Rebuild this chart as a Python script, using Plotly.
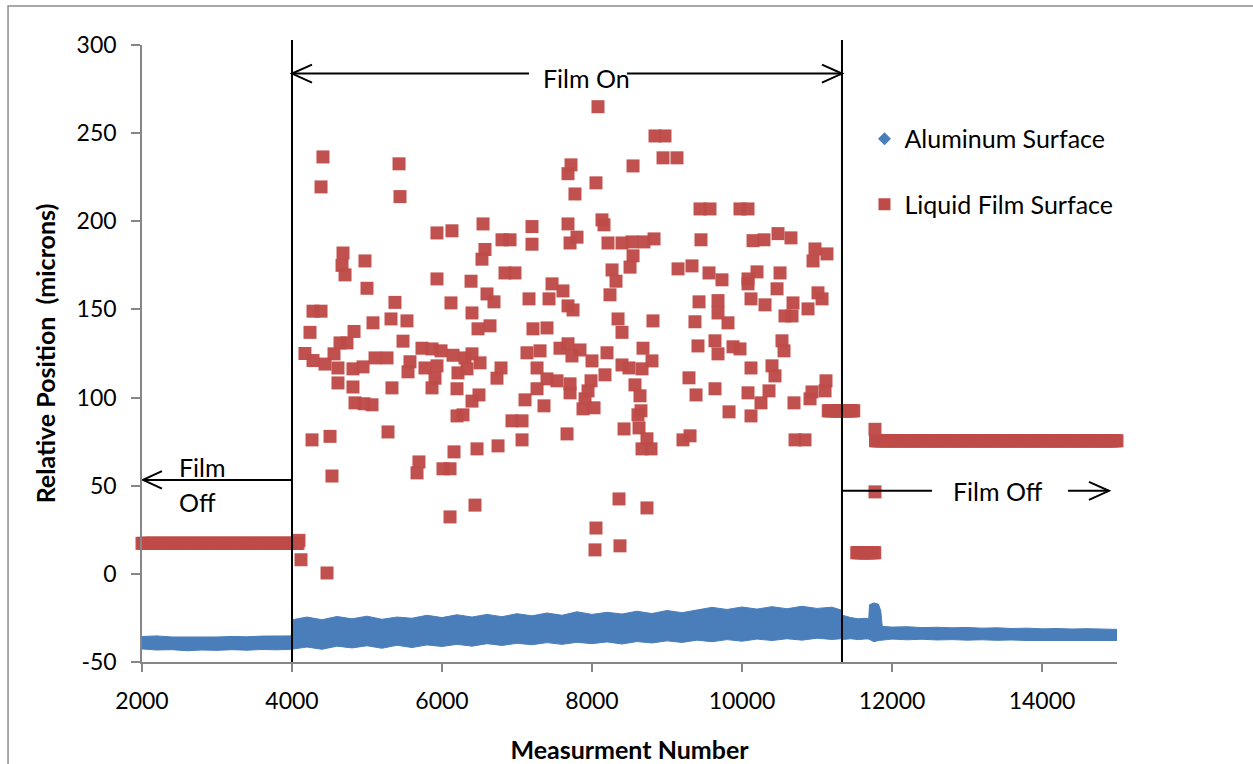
import numpy as np
import plotly.graph_objects as go

# ---------------- data ----------------
# Aluminum Surface: dense band, given as upper / lower edge of the band
al_x = [2000, 2200, 2400, 2600, 2800, 3000, 3200, 3400, 3600, 3800, 3990,
        4010, 4200, 4400, 4600, 4800, 5000, 5200, 5400, 5600, 5800, 6000,
        6200, 6400, 6600, 6800, 7000, 7200, 7400, 7600, 7800, 8000, 8200,
        8400, 8600, 8800, 9000, 9200, 9400, 9600, 9800, 10000, 10200, 10400,
        10600, 10800, 11000, 11200, 11320,
        11340, 11450, 11550, 11650, 11690,
        11700, 11760, 11820, 11850,
        11870, 12000, 12200, 12400, 12600, 12800, 13000, 13200, 13400, 13600,
        13800, 14000, 14200, 14400, 14600, 14800, 15000]
al_upper = [-35.5, -35.2, -35.8, -35.9, -35.6, -35.8, -35.5, -35.7, -35.3, -35.4, -35.2,
            -26.0, -24.5, -26.0, -24.2, -25.5, -24.0, -25.8, -24.5, -25.2, -23.5, -24.8,
            -23.2, -24.5, -23.0, -24.3, -22.6, -23.8, -22.2, -23.5, -21.5, -23.0, -21.8,
            -22.8, -21.2, -22.5, -20.8, -22.0, -20.5, -19.0, -20.2, -18.8, -20.0, -18.6,
            -19.8, -18.4, -19.6, -18.9, -20.5,
            -23.5, -24.8, -25.5, -25.2, -25.5,
            -17.5, -16.5, -17.2, -21.0,
            -29.8, -30.2, -30.0, -30.5, -30.3, -30.6, -30.4, -30.8, -30.6, -31.0,
            -30.8, -31.2, -31.0, -31.3, -31.1, -31.4, -31.5]
al_lower = [-42.6, -43.2, -43.0, -43.6, -43.2, -43.4, -43.0, -43.3, -42.9, -43.1, -42.8,
            -42.5, -41.5, -42.8, -41.0, -42.0, -40.8, -42.2, -40.5, -41.8, -40.3, -41.2,
            -40.0, -41.0, -39.6, -40.6, -39.4, -40.2, -39.0, -40.0, -38.8, -39.6, -38.6,
            -39.8, -38.4, -39.2, -38.0, -38.9, -37.6, -38.5, -37.3, -38.2, -37.0, -37.8,
            -36.8, -37.6, -36.5, -37.2, -36.8,
            -37.2, -36.8, -37.3, -36.9, -37.0,
            -37.5, -38.5, -37.8, -37.5,
            -37.3, -37.0, -37.4, -37.1, -37.5, -37.3, -37.6, -37.4, -37.7, -37.5,
            -37.8, -37.6, -37.9, -37.7, -38.0, -37.8, -37.8]

# Liquid Film Surface: flat runs of repeated readings (start, end, value)
lf_run_start = [2000, 11150, 11530, 11780]
lf_run_end = [4090, 11500, 11770, 15000]
lf_run_value = [17.3, 92.5, 12.0, 75.5]

# Liquid Film Surface: scattered readings while the film is on
lf_x = [4120, 4467, 4267, 4507, 4533, 4093, 4173, 4280, 4240, 4280, 4387, 4413, 4387,
        5427, 5440, 5933, 6133, 6547, 6800, 6907, 7200, 7200, 7720, 7680,
        4680, 4667, 4707, 4973, 5000, 5933, 6387, 6573, 6533, 6840, 6973, 7467, 7613,
        6600, 6693, 6120, 6400, 7160, 7427, 5373, 5320, 5533, 5080, 4827, 6480, 6640,
        7213, 7400, 7680,
        4640, 4733, 5480, 4560, 4440, 4613, 4813, 4947, 5107, 5267, 5733, 5867, 5987,
        6147, 6307, 6400, 6507, 5573, 5547, 5773, 5933, 5907, 5867, 6213, 6333, 6200,
        6400, 6493, 4613, 4813, 4840, 5067, 4960, 5333, 6200, 6280, 6787, 6733, 7133,
        7307, 7267, 7400, 7533, 7267, 7107, 7360, 7573, 6933, 7067, 5280, 7067, 6160,
        6467, 6747, 5693, 5667, 6013, 6107, 6440, 6107, 7667,
        8080, 8840, 8973, 8947, 9133, 8547, 8053, 7773, 9440, 9573, 9973, 10080, 8133,
        8160, 7680, 7800, 7707, 8213, 8400, 8533, 8693, 8827, 9453, 10147, 10293, 10480,
        10653, 8547, 8507, 8267, 8320, 9147, 9333, 9560, 9733, 10200, 10080, 10080,
        10507, 10467, 10973, 11133, 10947, 8240, 9427, 9680, 9680, 10120, 10307, 10680,
        11013, 11067, 10880, 10573, 10667, 7747, 8347, 8813, 9373, 9813,
        8400, 7680, 7840, 7733, 8000, 8200, 8680, 8800, 8400, 8493, 8667, 8173, 7707,
        7707, 7987, 7947, 7907, 7880, 8027, 8573, 8640, 8653, 8613, 8427, 8627, 8733,
        8787, 8667, 9413, 9640, 9680, 9880, 9973, 9293, 9387, 9640, 9827, 10120, 10080,
        10120, 10400, 10440, 10360, 10253, 10533, 10560, 10693, 10907, 10933, 11107,
        11120, 9213, 9307, 10707, 10840, 8360, 8733, 8053, 8040, 8373,
        11773, 11773]
lf_y = [8, 0.5, 76, 78, 55.5, 19, 125, 121, 137, 149, 149, 236.5, 219.5,
        232.6, 214, 193.4, 194.6, 198.5, 189.5, 189.5, 197, 187, 232, 227,
        182, 175, 169.6, 177.5, 162, 167.3, 166, 184, 178.5, 170.7, 170.7, 164.5, 160.5,
        158.8, 154.3, 153.7, 148, 156, 156, 154, 144.6, 143.5, 142.4, 137.5, 139, 140.7,
        139, 139.5, 152,
        131, 131, 132, 124.8, 119, 116.8, 116.3, 117.4, 122.5, 122.5, 128, 127.6, 126.5,
        124, 122.5, 124.8, 119.7, 120.3, 114.6, 116.8, 118, 111, 105.5, 114, 116.3, 105,
        98, 101.5, 108.3, 106, 97, 95.9, 96.5, 105.5, 89.6, 90.2, 116.8, 111, 125.4,
        126.5, 116.8, 110.6, 109.5, 105, 98.7, 95.3, 128, 86.8, 86.8, 80.5, 76, 69.2,
        70.9, 72.6, 63.5, 57.3, 59.6, 59.6, 39, 32.3, 79.4,
        265, 248.4, 248.4, 236, 236, 231.4, 221.8, 215.5, 207, 207, 207, 207, 200.8,
        198, 198.5, 191, 187.7, 187.7, 187.7, 188.3, 188.3, 190, 189.5, 189, 189.5, 193,
        190.6, 180.4, 174, 172.4, 166, 173, 174.7, 170.7, 166.8, 171.3, 167.3, 164.5,
        170.7, 161.7, 184.3, 181.5, 177.5, 158.3, 154.3, 155, 148, 156, 152.6, 153.7,
        159.4, 156, 150.3, 146.3, 146.3, 149.7, 144.6, 143.5, 143, 142.4,
        137, 130.5, 127, 123.6, 120.8, 125.4, 128, 120.8, 118.5, 116.8, 116.3, 112.9, 107.8,
        102.7, 109.5, 103.8, 99.3, 93.6, 94.2, 107.2, 101, 92.5, 90.2, 82.2, 82.8, 76.6,
        70.9, 70.9, 129.3, 132.2, 124.8, 128.8, 127.6, 111.2, 101.5, 105, 91.9, 116.8, 102.7,
        89.6, 118, 112.3, 103.8, 97, 132.2, 126.5, 97, 99.3, 103.2, 103.8,
        109.5, 76, 78.3, 76, 76, 42.5, 37.4, 26, 13.6, 15.9,
        82, 46.5]

x_ticks = [2000, 4000, 6000, 8000, 10000, 12000, 14000]
y_ticks = [-50, 0, 50, 100, 150, 200, 250, 300]
y_tick_labels = ["-50", "0", "50", "100", "150", "200", "250", "300"]
film_on_start = 4000
film_on_end = 11333

# ---------------- figure ----------------
BLUE = "#4A7EBB"
RED = "#BE4B48"
AXC = "#868686"
TXT = 25

run_x, run_y = [], []
for s, e, v in zip(lf_run_start, lf_run_end, lf_run_value):
    xs = np.arange(s, e + 1, 20)
    run_x.extend(xs.tolist())
    run_y.extend([v] * len(xs))

fig = go.Figure()

# aluminum band
fig.add_trace(go.Scatter(
    x=al_x + al_x[::-1], y=al_upper + al_lower[::-1],
    fill="toself", fillcolor=BLUE, mode="lines",
    line=dict(color=BLUE, width=1), showlegend=False, hoverinfo="skip",
    cliponaxis=False))

# liquid film
fig.add_trace(go.Scatter(
    x=run_x + lf_x, y=run_y + lf_y, mode="markers",
    marker=dict(symbol="square", size=13, color=RED, opacity=0.97,
                line=dict(width=0)),
    showlegend=False, cliponaxis=False))

# legend entries
fig.add_trace(go.Scatter(x=[None], y=[None], mode="markers", name="Aluminum Surface",
                         marker=dict(symbol="diamond", size=10, color=BLUE),
                         legendgroup="a"))
fig.add_trace(go.Scatter(x=[None], y=[None], mode="markers", name="Liquid Film Surface",
                         marker=dict(symbol="square", size=12, color=RED),
                         legendgroup="b"))

shapes = []
# vertical lines
for xv in (film_on_start, film_on_end):
    shapes.append(dict(type="line", xref="x", yref="paper", x0=xv, x1=xv,
                       y0=0, y1=1.008, line=dict(color="black", width=2)))

def seg(x0, y0, x1, y1):
    return dict(type="line", xref="x", yref="y", x0=x0, y0=y0, x1=x1, y1=y1,
                line=dict(color="black", width=2))

def head(xt, yt, dx, dy):
    return dict(type="path", xref="x", yref="y",
                path=f"M {xt+dx},{yt+dy} L {xt},{yt} L {xt+dx},{yt-dy}",
                line=dict(color="black", width=2))

yo = 283.8
shapes += [seg(4000, yo, 7160, yo), seg(8467, yo, 11333, yo),
           head(4000, yo, 267, 5.1), head(11333, yo, -267, 5.1)]
yl = 53.3
shapes += [seg(4013, yl, 2013, yl), head(2013, yl, 253, 5.0)]
yr = 47.1
shapes += [seg(11333, yr, 12533, yr), seg(14347, yr, 14893, yr),
           head(14893, yr, -267, 5.1)]
# outer chart border
shapes.append(dict(type="rect", xref="paper", yref="paper",
                   x0=-0.1374, x1=1.16, y0=-0.2, y1=1.0632,
                   line=dict(color="#8C8C8C", width=1.5), layer="below"))

annotations = [
    dict(x=7920, y=281.3, text="Film On", showarrow=False, xanchor="center",
         yanchor="middle", font=dict(size=TXT)),
    dict(x=2467, y=60.7, text="Film", showarrow=False, xanchor="left",
         yanchor="middle", font=dict(size=TXT)),
    dict(x=2467, y=40.8, text="Off", showarrow=False, xanchor="left",
         yanchor="middle", font=dict(size=TXT)),
    dict(x=13413, y=47.1, text="Film Off", showarrow=False, xanchor="center",
         yanchor="middle", font=dict(size=TXT)),
]

fig.update_layout(
    width=1253, height=764,
    margin=dict(l=142, r=136, t=45, b=102),
    paper_bgcolor="white", plot_bgcolor="white",
    font=dict(family="Lato", size=23, color="black"),
    shapes=shapes, annotations=annotations,
    legend=dict(x=0.741, y=0.885, xanchor="left", yanchor="top",
                font=dict(size=TXT), tracegroupgap=30, traceorder="grouped",
                itemsizing="trace", bgcolor="rgba(0,0,0,0)"),
    xaxis=dict(range=[2000, 15000], tickvals=x_ticks, tickformat="d",
               showline=True, linecolor=AXC, linewidth=1.5, ticks="outside",
               ticklen=8, tickcolor=AXC, tickwidth=1.5, showgrid=False,
               zeroline=False, ticklabelstandoff=10, automargin=False,
               title=dict(text="<b>Measurment Number</b>", standoff=28,
                          font=dict(size=TXT))),
    yaxis=dict(range=[-50, 300], tickvals=y_ticks, ticktext=y_tick_labels,
               showline=True, linecolor=AXC,
               linewidth=1.5, ticks="outside", ticklen=9, tickcolor=AXC,
               tickwidth=1.5, showgrid=False, zeroline=False,
               ticklabelstandoff=10, automargin=False,
               title=dict(text="<b>Relative Position\u00a0 (microns)</b>",
                          standoff=14, font=dict(size=TXT))),
)

fig.write_html("out.html", post_script="document.body.style.margin='0';",
               config={"displayModeBar": False})
